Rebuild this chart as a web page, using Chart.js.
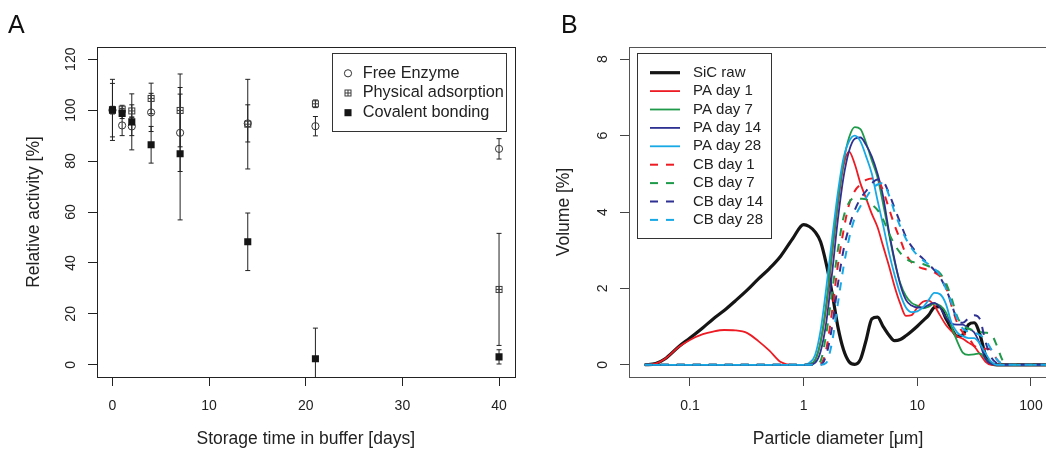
<!DOCTYPE html>
<html>
<head>
<meta charset="utf-8">
<script src="https://cdn.jsdelivr.net/npm/chart.js@4.4.1/dist/chart.umd.min.js"></script>
<style>
    body { margin: 0; width: 1046px; height: 450px; overflow: hidden; background: #fff; position: relative;
           font-family: "Liberation Sans", Arial, sans-serif; }
    .wrap { position: absolute; top: 0; height: 450px; }
    #wrapA { left: 0; width: 520px; }
    #wrapB { left: 520px; width: 530px; }
    .panel { position: absolute; top: 12px; font-size: 25px; line-height: 25px; color: #111; }
</style>
</head>
<body>
<div class="wrap" id="wrapA"><canvas id="chartA" width="520" height="450"></canvas></div>
<div class="wrap" id="wrapB"><canvas id="chartB" width="530" height="450"></canvas></div>
<div class="panel" style="left:8px">A</div>
<div class="panel" style="left:561px">B</div>
<script>
// ---------- Painel A: atividade relativa ----------
const days = [0, 1, 2, 4, 7, 14, 21, 40];
const freeEnzyme = [100, 94.0, 93.6, 99.1, 91.1, 94.8, 93.7, 84.8];
const freeErr    = [10.5, 4, 3.6, 7.5, 15.2, 7.3, 3.8, 4];
const physAds    = [100, 100.4, 99.7, 104.6, 99.9, 94.5, 102.5, 29.6];
const physErr    = [1.5, 1.5, 2.4, 6, 14.3, 17.6, 1.5, 22];
const covalent   = [100.1, 98.7, 95.4, 86.4, 82.9, 48.3, 2.4, 3.1];
const covErr     = [12, 2, 11, 7.2, 26, 11.3, 12, 2.8];
const dayTicks = [0, 10, 20, 30, 40];
const activityTicks = [0, 20, 40, 60, 80, 100, 120];

// ---------- Painel B: distribuição de tamanho ----------
const diameters = [
    0.04, 0.05, 0.06, 0.08, 0.1, 0.13, 0.16, 0.2, 0.25, 0.32,
    0.4, 0.5, 0.63, 0.8, 1.0, 1.12, 1.26, 1.41, 1.58, 1.78,
    2.0, 2.24, 2.51, 2.82, 3.16, 3.55, 3.98, 4.47, 5.01, 5.62,
    6.31, 7.08, 7.94, 8.91, 10, 11.2, 12.6, 14.1, 15.8, 17.8,
    20, 22.4, 25.1, 28.2, 31.6, 35.5, 39.8, 44.7, 50.1, 56.2,
    63.1, 79.4, 100, 140
];
const sicRaw = [
    0, 0.03, 0.15, 0.48, 0.70, 0.97, 1.20, 1.42, 1.67, 1.96,
    2.25, 2.52, 2.85, 3.30, 3.67, 3.62, 3.48, 3.22, 2.65, 1.88,
    1.00, 0.40, 0.08, 0.01, 0.14, 0.65, 1.20, 1.25, 1.00, 0.78,
    0.63, 0.66, 0.76, 0.88, 1.01, 1.15, 1.30, 1.50, 1.52, 1.22,
    0.95, 0.75, 0.78, 1.05, 1.10, 0.80, 0.25, 0.03, 0, 0,
    0, 0, 0, 0
];
const paDay1 = [
    0, 0.03, 0.15, 0.47, 0.65, 0.80, 0.87, 0.91, 0.90, 0.83,
    0.62, 0.37, 0.07, 0, 0, 0.02, 0.12, 0.60, 1.50, 2.90,
    4.20, 5.20, 5.58, 5.25, 4.75, 4.35, 3.95, 3.60, 3.10, 2.60,
    2.05, 1.60, 1.28, 1.30, 1.50, 1.65, 1.68, 1.55, 1.30, 1.05,
    0.88, 0.75, 0.68, 0.58, 0.48, 0.28, 0.08, 0, 0, 0,
    0, 0, 0, 0
];
const paDay7 = [
    0, 0, 0, 0, 0, 0, 0, 0, 0, 0,
    0, 0, 0, 0, 0, 0.02, 0.12, 0.60, 1.60, 3.00,
    4.30, 5.30, 5.95, 6.22, 6.17, 5.80, 5.35, 4.90, 4.20, 3.45,
    2.70, 2.14, 1.80, 1.62, 1.55, 1.48, 1.52, 1.60, 1.55, 1.38,
    1.00, 0.62, 0.32, 0.26, 0.27, 0.30, 0.16, 0.03, 0, 0,
    0, 0, 0, 0
];
const paDay14 = [
    0, 0, 0, 0, 0, 0, 0, 0, 0, 0,
    0, 0, 0, 0, 0, 0, 0.05, 0.35, 1.10, 2.40,
    3.80, 4.90, 5.60, 5.92, 5.95, 5.75, 5.45, 5.00, 4.40, 3.50,
    2.75, 2.10, 1.70, 1.55, 1.50, 1.50, 1.57, 1.62, 1.50, 1.25,
    1.08, 1.05, 1.05, 0.95, 0.85, 0.55, 0.15, 0.02, 0, 0,
    0, 0, 0, 0
];
const paDay28 = [
    0, 0, 0, 0, 0, 0, 0, 0, 0, 0,
    0, 0, 0, 0, 0, 0.05, 0.25, 0.90, 2.00, 3.30,
    4.50, 5.40, 5.85, 6.00, 5.85, 5.45, 5.00, 4.30, 3.65, 2.95,
    2.35, 1.85, 1.50, 1.38, 1.40, 1.50, 1.70, 1.88, 1.85, 1.60,
    1.10, 0.85, 0.75, 0.70, 0.70, 0.55, 0.30, 0.08, 0, 0,
    0, 0, 0, 0
];
const cbDay1 = [
    0, 0, 0, 0, 0, 0, 0, 0, 0, 0,
    0, 0, 0, 0, 0, 0, 0, 0.02, 0.40, 1.40,
    2.60, 3.50, 4.20, 4.55, 4.72, 4.84, 4.88, 4.85, 4.55, 4.10,
    3.65, 3.28, 2.90, 2.68, 2.58, 2.52, 2.48, 2.42, 2.32, 2.05,
    1.55, 1.10, 0.85, 0.72, 0.50, 0.45, 0.42, 0.40, 0.14, 0.02,
    0, 0, 0, 0
];
const cbDay7 = [
    0, 0, 0, 0, 0, 0, 0, 0, 0, 0,
    0, 0, 0, 0, 0, 0, 0, 0.10, 0.80, 1.90,
    3.00, 3.85, 4.25, 4.37, 4.35, 4.33, 4.20, 4.05, 3.80, 3.45,
    3.15, 2.93, 2.78, 2.70, 2.67, 2.64, 2.58, 2.50, 2.40, 2.15,
    1.75, 1.27, 1.03, 0.95, 0.90, 0.86, 0.84, 0.80, 0.50, 0.12,
    0, 0, 0, 0
];
const cbDay14 = [
    0, 0, 0, 0, 0, 0, 0, 0, 0, 0,
    0, 0, 0, 0, 0, 0, 0, 0, 0.25, 1.00,
    2.10, 3.00, 3.60, 4.05, 4.35, 4.55, 4.75, 4.85, 4.80, 4.50,
    4.10, 3.72, 3.35, 3.10, 2.92, 2.78, 2.63, 2.48, 2.30, 2.00,
    1.60, 1.18, 1.10, 1.22, 1.30, 1.20, 0.60, 0.20, 0.04, 0,
    0, 0, 0, 0
];
const cbDay28 = [
    0, 0, 0, 0, 0, 0, 0, 0, 0, 0,
    0, 0, 0, 0, 0, 0, 0, 0, 0.05, 0.60,
    1.60, 2.55, 3.30, 3.85, 4.15, 4.38, 4.60, 4.72, 4.76, 4.45,
    4.00, 3.62, 3.30, 3.05, 2.87, 2.74, 2.63, 2.52, 2.35, 2.00,
    1.62, 1.22, 0.95, 0.87, 0.84, 0.78, 0.65, 0.40, 0.14, 0.02,
    0, 0, 0, 0
];
const diameterTicks = [0.1, 1, 10, 100];
const volumeTicks = [0, 2, 4, 6, 8];

const FONT = '"Liberation Sans", Arial, sans-serif';
const COLORS = {
    ink: '#222222',
    black: '#151515',
    red: '#ED1C24',
    green: '#1F9A4A',
    navy: '#2E3192',
    cyan: '#17A8E6'
};

Chart.defaults.font.family = FONT;
Chart.defaults.color = COLORS.ink;

/** Quadrado com cruz (pch 12 do R) */
function makeSquarePlus(color) {
    const c = document.createElement('canvas');
    c.width = 9; c.height = 9;
    const g = c.getContext('2d');
    g.strokeStyle = color; g.lineWidth = 1;
    g.strokeRect(1.5, 1.5, 6, 6);
    g.beginPath();
    g.moveTo(4.5, 1.5); g.lineTo(4.5, 7.5);
    g.moveTo(1.5, 4.5); g.lineTo(7.5, 4.5);
    g.stroke();
    return c;
}
const squarePlus = makeSquarePlus('#3a3a3a');

/** Desenha o marcador de um dataset (usado na legenda) */
function drawMarker(ctx, ds, x, y) {
    ctx.save();
    if (ds.pointStyle === 'circle') {
        ctx.strokeStyle = ds.pointBorderColor; ctx.lineWidth = ds.pointBorderWidth;
        ctx.beginPath(); ctx.arc(x, y, ds.pointRadius, 0, Math.PI * 2); ctx.stroke();
    } else if (ds.pointStyle === 'rect') {
        const h = ds.pointRadius * Math.SQRT1_2;
        ctx.fillStyle = ds.pointBackgroundColor;
        ctx.fillRect(x - h, y - h, 2 * h, 2 * h);
    } else {
        ctx.drawImage(ds.pointStyle, x - ds.pointStyle.width / 2, y - ds.pointStyle.height / 2);
    }
    ctx.restore();
}

// Moldura completa da área do gráfico
const frameBox = {
    id: 'frameBox',
    afterDatasetsDraw(chart, args, opts) {
        const a = chart.chartArea, ctx = chart.ctx;
        ctx.save();
        ctx.strokeStyle = opts.color; ctx.lineWidth = 1;
        ctx.strokeRect(Math.round(a.left) + 0.5, Math.round(a.top) + 0.5,
            Math.round(a.right - a.left), Math.round(a.bottom - a.top));
        ctx.restore();
    }
};

// Rótulos do eixo y girados (estilo R)
const yTickLabels = {
    id: 'yTickLabels',
    afterDraw(chart, args, opts) {
        const s = chart.scales.y, ctx = chart.ctx;
        const x = chart.chartArea.left - opts.offset;
        ctx.save();
        ctx.font = opts.font; ctx.fillStyle = opts.color;
        ctx.textAlign = 'center'; ctx.textBaseline = 'middle';
        s.ticks.forEach(t => {
            ctx.save();
            ctx.translate(x, s.getPixelForValue(t.value));
            ctx.rotate(-Math.PI / 2);
            ctx.fillText(String(t.value), 0, 0);
            ctx.restore();
        });
        ctx.restore();
    }
};

// Barras de erro (± desvio)
const errorBars = {
    id: 'errorBars',
    beforeDatasetsDraw(chart, args, opts) {
        const { ctx, chartArea: a, scales: { x, y } } = chart;
        ctx.save();
        ctx.beginPath(); ctx.rect(a.left, a.top, a.right - a.left, a.bottom - a.top); ctx.clip();
        ctx.strokeStyle = opts.color; ctx.lineWidth = 1;
        chart.data.datasets.forEach(ds => {
            ds.data.forEach((p, i) => {
                const e = ds.errors[i];
                const px = x.getPixelForValue(p.x);
                const y0 = y.getPixelForValue(p.y - e), y1 = y.getPixelForValue(p.y + e);
                ctx.beginPath();
                ctx.moveTo(px, y0); ctx.lineTo(px, y1);
                ctx.moveTo(px - opts.cap, y0); ctx.lineTo(px + opts.cap, y0);
                ctx.moveTo(px - opts.cap, y1); ctx.lineTo(px + opts.cap, y1);
                ctx.stroke();
            });
        });
        ctx.restore();
    }
};

// Legenda em caixa, posicionada dentro do gráfico
const boxLegend = {
    id: 'boxLegend',
    afterDraw(chart, args, o) {
        const ctx = chart.ctx;
        ctx.save();
        ctx.fillStyle = '#fff'; ctx.fillRect(o.x, o.y, o.w, o.h);
        ctx.strokeStyle = o.border; ctx.lineWidth = 1;
        ctx.strokeRect(o.x + 0.5, o.y + 0.5, o.w, o.h);
        ctx.font = o.font; ctx.textBaseline = 'middle'; ctx.textAlign = 'left';
        chart.data.datasets.forEach((ds, i) => {
            const cy = o.rowY + i * o.rowStep;
            if (o.lineSample) {
                ctx.save();
                ctx.strokeStyle = ds.borderColor; ctx.lineWidth = ds.borderWidth;
                ctx.setLineDash(ds.borderDash || []);
                ctx.beginPath(); ctx.moveTo(o.lineSample[0], cy); ctx.lineTo(o.lineSample[1], cy); ctx.stroke();
                ctx.restore();
            } else {
                drawMarker(ctx, ds, o.symbolX, cy);
            }
            ctx.fillStyle = o.color;
            ctx.fillText(ds.label, o.textX, cy);
        });
        ctx.restore();
    }
};

function axisGrid(color) {
    return { drawOnChartArea: false, drawTicks: true, tickLength: 9, color: color, lineWidth: 1 };
}

// Tamanho fixo dos eixos, sem margem extra para os rótulos
function fixHeight(h) {
    return s => { s.height = h; s.paddingLeft = 0; s.paddingRight = 0; };
}
function fixWidth(w) {
    return s => { s.width = w; s.paddingTop = 0; s.paddingBottom = 0; };
}

function createActivityChart() {
    const pts = vals => days.map((d, i) => ({ x: d, y: vals[i] }));
    new Chart(document.getElementById('chartA'), {
        type: 'scatter',
        data: {
            datasets: [{
                label: 'Free Enzyme', data: pts(freeEnzyme), errors: freeErr, order: 2,
                pointStyle: 'circle', pointRadius: 3.6, pointBorderWidth: 1,
                pointBorderColor: '#333', pointBackgroundColor: 'rgba(0,0,0,0)'
            }, {
                label: 'Physical adsorption', data: pts(physAds), errors: physErr, order: 1,
                pointStyle: squarePlus, pointRadius: 4.5
            }, {
                label: 'Covalent bonding', data: pts(covalent), errors: covErr, order: 0,
                pointStyle: 'rect', pointRadius: 5, pointBorderWidth: 0,
                pointBackgroundColor: '#151515', pointBorderColor: '#151515'
            }]
        },
        options: {
            responsive: false,
            animation: false,
            events: [],
            layout: { padding: { left: 0, right: 4, top: 47, bottom: 0 } },
            plugins: {
                legend: { display: false },
                tooltip: { enabled: false },
                frameBox: { color: '#222' },
                yTickLabels: { offset: 26, font: '14px ' + FONT, color: COLORS.ink },
                errorBars: { color: '#222', cap: 2.5 },
                boxLegend: {
                    x: 332, y: 53, w: 174, h: 78, rowY: 73.3, rowStep: 19.7,
                    symbolX: 348, textX: 362.7, font: '16.3px ' + FONT,
                    color: COLORS.ink, border: '#333'
                }
            },
            scales: {
                x: {
                    type: 'linear', min: -1.6, max: 41.6,
                    afterBuildTicks: s => { s.ticks = dayTicks.map(v => ({ value: v })); },
                    afterFit: fixHeight(73),
                    grid: axisGrid('#222'),
                    border: { display: false },
                    ticks: { font: { size: 14 }, color: COLORS.ink, padding: 12, maxRotation: 0, autoSkip: false },
                    title: { display: true, text: 'Storage time in buffer [days]', color: COLORS.ink,
                             font: { size: 17.5 }, padding: { top: 0, bottom: 0 } }
                },
                y: {
                    type: 'linear', min: -4.8, max: 124.8,
                    afterBuildTicks: s => { s.ticks = activityTicks.map(v => ({ value: v })); },
                    afterFit: fixWidth(97),
                    grid: axisGrid('#222'),
                    border: { display: false },
                    ticks: { display: false },
                    title: { display: true, text: 'Relative activity [%]', color: COLORS.ink,
                             font: { size: 17.5 }, padding: { top: 23.5, bottom: 0 } }
                }
            }
        },
        plugins: [frameBox, yTickLabels, errorBars, boxLegend]
    });
}

function createSizeChart() {
    const pts = vals => diameters.map((d, i) => ({ x: d, y: vals[i] }));
    const series = [
        ['SiC raw', sicRaw, COLORS.black, 3.2, []],
        ['PA day 1', paDay1, COLORS.red, 1.8, []],
        ['PA day 7', paDay7, COLORS.green, 1.8, []],
        ['PA day 14', paDay14, COLORS.navy, 1.8, []],
        ['PA day 28', paDay28, COLORS.cyan, 1.8, []],
        ['CB day 1', cbDay1, COLORS.red, 2, [8, 8]],
        ['CB day 7', cbDay7, COLORS.green, 2, [8, 8]],
        ['CB day 14', cbDay14, COLORS.navy, 2, [8, 8]],
        ['CB day 28', cbDay28, COLORS.cyan, 2, [8, 8]]
    ];
    new Chart(document.getElementById('chartB'), {
        type: 'line',
        data: {
            datasets: series.map((s, i) => ({
                label: s[0], data: pts(s[1]), borderColor: s[2], borderWidth: s[3], borderDash: s[4],
                pointRadius: 0, fill: false, cubicInterpolationMode: 'monotone',
                order: series.length - 1 - i
            }))
        },
        options: {
            responsive: false,
            animation: false,
            events: [],
            layout: { padding: { left: 0, right: 3, top: 47, bottom: 0 } },
            plugins: {
                legend: { display: false },
                tooltip: { enabled: false },
                frameBox: { color: '#555' },
                yTickLabels: { offset: 26, font: '14px ' + FONT, color: COLORS.ink },
                boxLegend: {
                    x: 117, y: 53, w: 134, h: 185, rowY: 72.7, rowStep: 18.4,
                    lineSample: [130, 160], textX: 173, font: '15px ' + FONT,
                    color: COLORS.ink, border: '#333'
                }
            },
            scales: {
                x: {
                    type: 'logarithmic', min: 0.0291, max: 138.3,
                    afterBuildTicks: s => { s.ticks = diameterTicks.map(v => ({ value: v })); },
                    afterFit: fixHeight(73),
                    grid: axisGrid('#444'),
                    border: { display: false },
                    ticks: { font: { size: 14 }, color: COLORS.ink, padding: 12, maxRotation: 0,
                             autoSkip: false, callback: v => String(v) },
                    title: { display: true, text: 'Particle diameter [μm]', color: COLORS.ink,
                             font: { size: 17.5 }, padding: { top: 0, bottom: 0 } }
                },
                y: {
                    type: 'linear', min: -0.32, max: 8.32,
                    afterBuildTicks: s => { s.ticks = volumeTicks.map(v => ({ value: v })); },
                    afterFit: fixWidth(109),
                    grid: axisGrid('#444'),
                    border: { display: false },
                    ticks: { display: false },
                    title: { display: true, text: 'Volume [%]', color: COLORS.ink,
                             font: { size: 17.5 }, padding: { top: 33.5, bottom: 0 } }
                }
            }
        },
        plugins: [frameBox, yTickLabels, boxLegend]
    });
}

createActivityChart();
createSizeChart();
</script>
</body>
</html>
